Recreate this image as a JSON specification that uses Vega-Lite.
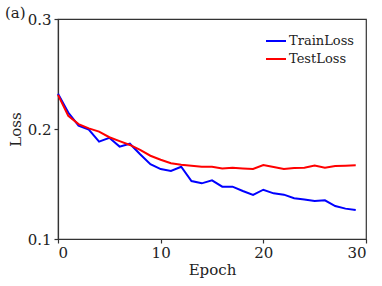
{
  "$schema": "https://vega.github.io/schema/vega-lite/v6.json",
  "width": 308,
  "height": 220,
  "autosize": {"type": "none"},
  "padding": {"left": 58, "top": 19, "right": 16, "bottom": 47},
  "background": "white",
  "title": {
    "text": "(a)",
    "anchor": "start",
    "frame": "group",
    "orient": "top",
    "dx": -53,
    "offset": -9,
    "font": "DejaVu Serif",
    "fontSize": 15,
    "fontWeight": "normal",
    "color": "#222"
  },
  "config": {
    "font": "DejaVu Serif",
    "view": {"stroke": "#333", "strokeWidth": 1.2},
    "axis": {
      "labelFont": "DejaVu Serif",
      "titleFont": "DejaVu Serif",
      "labelFontSize": 15,
      "titleFontSize": 15,
      "titleFontWeight": "normal",
      "labelColor": "#222",
      "titleColor": "#222",
      "domainColor": "#333",
      "tickColor": "#333",
      "domainWidth": 1.2,
      "tickWidth": 1.2,
      "tickSize": 4,
      "grid": false
    }
  },
  "data": {
    "values": [
      {"epoch": 0, "loss": 0.232, "series": "TrainLoss"},
      {"epoch": 1, "loss": 0.215, "series": "TrainLoss"},
      {"epoch": 2, "loss": 0.203, "series": "TrainLoss"},
      {"epoch": 3, "loss": 0.1995, "series": "TrainLoss"},
      {"epoch": 4, "loss": 0.1885, "series": "TrainLoss"},
      {"epoch": 5, "loss": 0.192, "series": "TrainLoss"},
      {"epoch": 6, "loss": 0.184, "series": "TrainLoss"},
      {"epoch": 7, "loss": 0.1866, "series": "TrainLoss"},
      {"epoch": 8, "loss": 0.177, "series": "TrainLoss"},
      {"epoch": 9, "loss": 0.168, "series": "TrainLoss"},
      {"epoch": 10, "loss": 0.1636, "series": "TrainLoss"},
      {"epoch": 11, "loss": 0.1618, "series": "TrainLoss"},
      {"epoch": 12, "loss": 0.1657, "series": "TrainLoss"},
      {"epoch": 13, "loss": 0.1527, "series": "TrainLoss"},
      {"epoch": 14, "loss": 0.1506, "series": "TrainLoss"},
      {"epoch": 15, "loss": 0.1533, "series": "TrainLoss"},
      {"epoch": 16, "loss": 0.1476, "series": "TrainLoss"},
      {"epoch": 17, "loss": 0.1476, "series": "TrainLoss"},
      {"epoch": 18, "loss": 0.1436, "series": "TrainLoss"},
      {"epoch": 19, "loss": 0.14, "series": "TrainLoss"},
      {"epoch": 20, "loss": 0.1448, "series": "TrainLoss"},
      {"epoch": 21, "loss": 0.1415, "series": "TrainLoss"},
      {"epoch": 22, "loss": 0.1403, "series": "TrainLoss"},
      {"epoch": 23, "loss": 0.137, "series": "TrainLoss"},
      {"epoch": 24, "loss": 0.136, "series": "TrainLoss"},
      {"epoch": 25, "loss": 0.1345, "series": "TrainLoss"},
      {"epoch": 26, "loss": 0.1352, "series": "TrainLoss"},
      {"epoch": 27, "loss": 0.13, "series": "TrainLoss"},
      {"epoch": 28, "loss": 0.1276, "series": "TrainLoss"},
      {"epoch": 29, "loss": 0.1264, "series": "TrainLoss"},
      {"epoch": 0, "loss": 0.231, "series": "TestLoss"},
      {"epoch": 1, "loss": 0.212, "series": "TestLoss"},
      {"epoch": 2, "loss": 0.2045, "series": "TestLoss"},
      {"epoch": 3, "loss": 0.2006, "series": "TestLoss"},
      {"epoch": 4, "loss": 0.1976, "series": "TestLoss"},
      {"epoch": 5, "loss": 0.1925, "series": "TestLoss"},
      {"epoch": 6, "loss": 0.189, "series": "TestLoss"},
      {"epoch": 7, "loss": 0.1855, "series": "TestLoss"},
      {"epoch": 8, "loss": 0.181, "series": "TestLoss"},
      {"epoch": 9, "loss": 0.1757, "series": "TestLoss"},
      {"epoch": 10, "loss": 0.172, "series": "TestLoss"},
      {"epoch": 11, "loss": 0.1688, "series": "TestLoss"},
      {"epoch": 12, "loss": 0.1676, "series": "TestLoss"},
      {"epoch": 13, "loss": 0.1667, "series": "TestLoss"},
      {"epoch": 14, "loss": 0.1657, "series": "TestLoss"},
      {"epoch": 15, "loss": 0.1657, "series": "TestLoss"},
      {"epoch": 16, "loss": 0.1642, "series": "TestLoss"},
      {"epoch": 17, "loss": 0.1648, "series": "TestLoss"},
      {"epoch": 18, "loss": 0.1642, "series": "TestLoss"},
      {"epoch": 19, "loss": 0.1636, "series": "TestLoss"},
      {"epoch": 20, "loss": 0.1673, "series": "TestLoss"},
      {"epoch": 21, "loss": 0.1655, "series": "TestLoss"},
      {"epoch": 22, "loss": 0.1636, "series": "TestLoss"},
      {"epoch": 23, "loss": 0.1645, "series": "TestLoss"},
      {"epoch": 24, "loss": 0.1648, "series": "TestLoss"},
      {"epoch": 25, "loss": 0.1667, "series": "TestLoss"},
      {"epoch": 26, "loss": 0.1648, "series": "TestLoss"},
      {"epoch": 27, "loss": 0.1664, "series": "TestLoss"},
      {"epoch": 28, "loss": 0.1667, "series": "TestLoss"},
      {"epoch": 29, "loss": 0.167, "series": "TestLoss"}
    ]
  },
  "mark": {"type": "line", "strokeWidth": 2},
  "encoding": {
    "x": {
      "field": "epoch",
      "type": "quantitative",
      "title": "Epoch",
      "scale": {"domain": [0, 30], "nice": false},
      "axis": {"values": [0, 10, 20, 30], "titlePadding": 2, "labelPadding": 2}
    },
    "y": {
      "field": "loss",
      "type": "quantitative",
      "title": "Loss",
      "scale": {"domain": [0.1, 0.3], "nice": false, "zero": false},
      "axis": {"values": [0.1, 0.2, 0.3], "format": ".1f", "titlePadding": 4, "labelPadding": 3}
    },
    "color": {
      "field": "series",
      "type": "nominal",
      "sort": ["TrainLoss", "TestLoss"],
      "scale": {"domain": ["TrainLoss", "TestLoss"], "range": ["#0000ff", "#ff0000"]},
      "legend": {
        "title": null,
        "orient": "none",
        "legendX": 207,
        "legendY": 11,
        "symbolType": "stroke",
        "symbolSize": 400,
        "symbolStrokeWidth": 2,
        "labelFont": "DejaVu Serif",
        "labelFontSize": 13,
        "labelColor": "#222",
        "labelOffset": 2,
        "rowPadding": -1
      }
    }
  }
}
